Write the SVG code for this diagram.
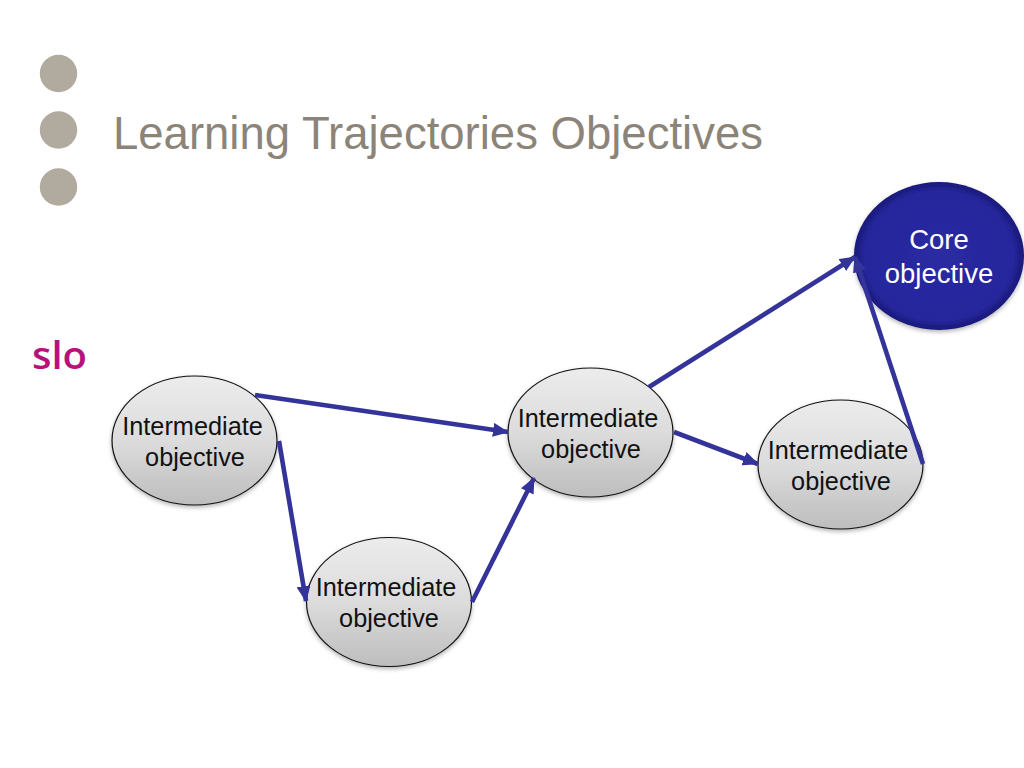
<svg xmlns="http://www.w3.org/2000/svg" width="1024" height="768" viewBox="0 0 1024 768">
<style>
.t{font-family:"Liberation Sans",Arial,sans-serif;font-size:25.3px;text-anchor:middle;fill:#111}
.w{fill:#fff;font-size:27.5px}
.n{fill:url(#g);stroke:#111;stroke-width:1.2;filter:url(#s)}
.c{fill:none;stroke:#333399;stroke-width:4.6;marker-end:url(#a)}
.d{fill:#b1aa9e}
</style>
<defs>
<linearGradient id="g" x1="0" y1="0" x2="0" y2="1"><stop offset="0" stop-color="#ececec"/><stop offset="0.5" stop-color="#dcdcdc"/><stop offset="1" stop-color="#bdbdbd"/></linearGradient>
<radialGradient id="b" cx="0.5" cy="0.5" r="0.5"><stop offset="0" stop-color="#2a2aa2"/><stop offset="0.88" stop-color="#26269c"/><stop offset="1" stop-color="#181878"/></radialGradient>
<filter id="s" x="-10%" y="-10%" width="120%" height="125%"><feDropShadow dx="0" dy="2" stdDeviation="2" flood-color="#000" flood-opacity="0.3"/></filter>
<marker id="a" markerUnits="userSpaceOnUse" markerWidth="16" markerHeight="14" refX="15" refY="7" orient="auto"><path d="M0 0L16 7L0 14Z" fill="#333399"/></marker>
</defs>
<rect width="1024" height="768" fill="#fff"/>
<g id="bullets"><circle class="d" cx="58.500" cy="73.500" r="18.700"/><circle class="d" cx="58.500" cy="130" r="18.700"/><circle class="d" cx="58.500" cy="187" r="18.700"/></g>
<text id="title" x="113" y="149" font-family="Liberation Sans,Arial,sans-serif" font-size="45.500" fill="#8c8478">Learning Trajectories Objectives</text>
<text id="logo" x="32" y="369" font-family="Open Sans,sans-serif" font-weight="600" font-size="38" fill="#b5137b" textLength="55" lengthAdjust="spacingAndGlyphs">slo</text>
<g id="n1"><ellipse class="n" cx="194.500" cy="440.500" rx="82.500" ry="64.500"/><text class="t" x="192.500" y="435">Intermediate</text><text class="t" x="195" y="466">objective</text></g>
<g id="n2"><ellipse class="n" cx="389" cy="602" rx="82.500" ry="64.500"/><text class="t" x="386" y="596">Intermediate</text><text class="t" x="389" y="627">objective</text></g>
<g id="n3"><ellipse class="n" cx="590.500" cy="432.500" rx="82.500" ry="64.500"/><text class="t" x="588" y="427">Intermediate</text><text class="t" x="591" y="458">objective</text></g>
<g id="n4"><ellipse class="n" cx="840.500" cy="464.500" rx="82.500" ry="64.500"/><text class="t" x="838" y="459">Intermediate</text><text class="t" x="841" y="490">objective</text></g>
<g id="core"><ellipse cx="939" cy="256" rx="85" ry="74" fill="url(#b)" filter="url(#s)"/><text class="t w" x="939" y="249">Core</text><text class="t w" x="939" y="283">objective</text></g>
<g id="connectors">
<line class="c" x1="255" y1="395" x2="508" y2="432"/>
<line class="c" x1="279" y1="441" x2="306" y2="601"/>
<line class="c" x1="472" y1="602" x2="534" y2="478"/>
<line class="c" x1="649" y1="387" x2="855" y2="257"/>
<line class="c" x1="674" y1="432" x2="758" y2="464"/>
<line class="c" x1="923" y1="464" x2="855" y2="257"/>
</g>
</svg>
